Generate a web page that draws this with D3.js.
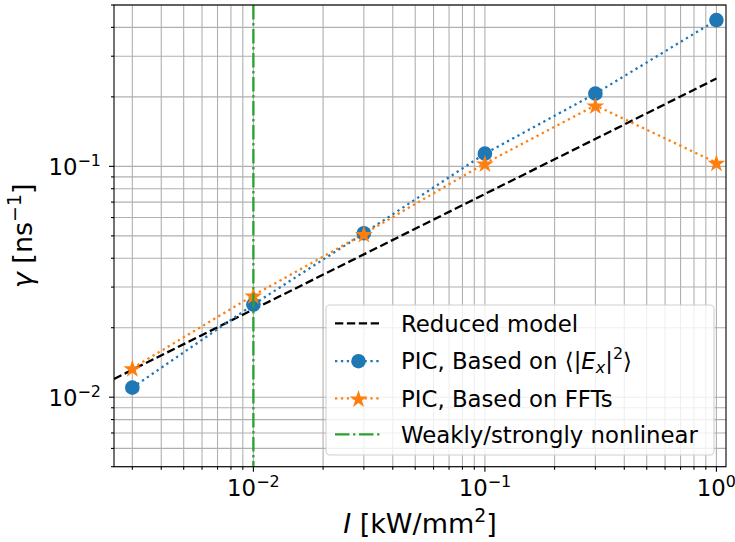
<!DOCTYPE html>
<html>
<head>
<meta charset="utf-8">
<script src="https://cdn.jsdelivr.net/npm/d3@7"></script>
<style>
  html, body { margin: 0; padding: 0; background: #fff; }
  svg { display: block; font-family: "DejaVu Sans", sans-serif; }
</style>
</head>
<body>
<svg id="chart" width="735" height="542"></svg>
<script>
// ---- data ----
const intensity = [0.003, 0.01, 0.03, 0.1, 0.3, 1.0];
const gammaEx = [0.0110, 0.0252, 0.0513, 0.1135, 0.2065, 0.430];
const gammaFFT = [0.01336, 0.0276, 0.0510, 0.1030, 0.1837, 0.1037];
const reducedI = [0.0025, 1.0];
const reducedGamma = [0.0120, 0.240];
const thresholdI = 0.01;
const xDomain = [0.0025, 1.1];
const yDomain = [0.005, 0.5];
const xMajorTicks = [0.01, 0.1, 1];
const xMajorExp = ["−2", "−1", "0"];
const yMajorTicks = [0.01, 0.1];
const yMajorExp = ["−2", "−1"];
const legendLabels = ["Reduced model", "PIC, Based on ", "PIC, Based on FFTs", "Weakly/strongly nonlinear"];

// ---- layout ----
const L = 114, R = 726, T = 5, B = 466.7;
const svg = d3.select("#chart");
const x = d3.scaleLog().domain(xDomain).range([L, R]);
const y = d3.scaleLog().domain(yDomain).range([B, T]);

function minorTicks(dom) {
  const out = [];
  for (let e = -4; e <= 1; e++) {
    for (let k = 2; k <= 9; k++) {
      const v = k * Math.pow(10, e);
      if (v >= dom[0] * 0.9999 && v <= dom[1] * 1.0001) out.push(v);
    }
  }
  return out;
}
const xMinor = minorTicks(xDomain);
const yMinor = minorTicks(yDomain);

const gridColor = "#b0b0b0";
const g = svg.append("g");
// grid
const grid = g.append("g");
[...xMinor, ...xMajorTicks].forEach(v => {
  grid.append("line").attr("x1", x(v)).attr("x2", x(v)).attr("y1", T).attr("y2", B)
    .attr("stroke", gridColor).attr("stroke-width", 1.1);
});
[...yMinor, ...yMajorTicks].forEach(v => {
  grid.append("line").attr("y1", y(v)).attr("y2", y(v)).attr("x1", L).attr("x2", R)
    .attr("stroke", gridColor).attr("stroke-width", 1.1);
});

// clip
svg.append("defs").append("clipPath").attr("id", "clip")
  .append("rect").attr("x", L).attr("y", T).attr("width", R - L).attr("height", B - T);
const plot = g.append("g").attr("clip-path", "url(#clip)");
const lw = 2.3;
const dotted = "2.3,3.6";
const dashed = "8.3,3.6";
const dashdot = "14.5,3.6,2.3,3.6";

// reduced model
const line = d3.line().x(d => x(d[0])).y(d => y(d[1]));
plot.append("path").datum(d3.zip(reducedI, reducedGamma)).attr("d", line)
  .attr("fill", "none").attr("stroke", "#000").attr("stroke-width", lw)
  .attr("stroke-dasharray", dashed);

// blue
plot.append("path").datum(d3.zip(intensity, gammaEx)).attr("d", line)
  .attr("fill", "none").attr("stroke", "#1f77b4").attr("stroke-width", lw)
  .attr("stroke-dasharray", dotted);
g.append("g").selectAll("circle").data(d3.zip(intensity, gammaEx)).join("circle")
  .attr("cx", d => x(d[0])).attr("cy", d => y(d[1])).attr("r", 7.3)
  .attr("fill", "#1f77b4");

// orange
plot.append("path").datum(d3.zip(intensity, gammaFFT)).attr("d", line)
  .attr("fill", "none").attr("stroke", "#ff7f0e").attr("stroke-width", lw)
  .attr("stroke-dasharray", dotted);
function starPath(cx, cy) {
  const ro = 9.4, ri = ro * 0.382;
  const pts = [];
  for (let i = 0; i < 10; i++) {
    const r = i % 2 === 0 ? ro : ri;
    const a = -Math.PI / 2 + i * Math.PI / 5;
    pts.push([cx + r * Math.cos(a), cy + r * Math.sin(a)]);
  }
  return "M" + pts.map(p => p.join(",")).join("L") + "Z";
}
g.append("g").selectAll("path").data(d3.zip(intensity, gammaFFT)).join("path")
  .attr("d", d => starPath(x(d[0]), y(d[1]) + 1)).attr("fill", "#ff7f0e");

// threshold
g.append("line").attr("x1", x(thresholdI)).attr("x2", x(thresholdI)).attr("y1", T).attr("y2", B)
  .attr("stroke", "#2ca02c").attr("stroke-width", lw).attr("stroke-dasharray", dashdot);

// spines
g.append("rect").attr("x", L).attr("y", T).attr("width", R - L).attr("height", B - T)
  .attr("fill", "none").attr("stroke", "#000").attr("stroke-width", 1.1);

// ticks
const ticks = g.append("g").attr("stroke", "#000").attr("stroke-width", 1.1);
xMajorTicks.forEach(v => ticks.append("line").attr("x1", x(v)).attr("x2", x(v)).attr("y1", B).attr("y2", B + 5));
xMinor.forEach(v => ticks.append("line").attr("x1", x(v)).attr("x2", x(v)).attr("y1", B).attr("y2", B + 3));
yMajorTicks.forEach(v => ticks.append("line").attr("y1", y(v)).attr("y2", y(v)).attr("x1", L).attr("x2", L - 5));
yMinor.forEach(v => ticks.append("line").attr("y1", y(v)).attr("y2", y(v)).attr("x1", L).attr("x2", L - 3));

const fs = 22.8;
function powLabel(sel, exp) {
  sel.append("tspan").text("10");
  sel.append("tspan").attr("dy", -9).attr("font-size", fs * 0.7).text(exp);
}
xMajorTicks.forEach((v, i) => {
  const t = g.append("text").attr("x", x(v)).attr("y", 496).attr("text-anchor", "middle")
    .attr("font-size", fs).attr("fill", "#000");
  powLabel(t, xMajorExp[i]);
});
yMajorTicks.forEach((v, i) => {
  const t = g.append("text").attr("x", 101).attr("y", y(v) + 9).attr("text-anchor", "end")
    .attr("font-size", fs).attr("fill", "#000");
  powLabel(t, yMajorExp[i]);
});

// axis labels
const lfs = 27;
const xl = g.append("text").attr("x", (L + R) / 2).attr("y", 533).attr("text-anchor", "middle")
  .attr("font-size", lfs).attr("fill", "#000");
xl.append("tspan").attr("font-style", "italic").text("I");
xl.append("tspan").text(" [kW/mm");
xl.append("tspan").attr("dy", -11).attr("font-size", lfs * 0.7).text("2");
xl.append("tspan").attr("dy", 11).text("]");

const yl = g.append("text").attr("transform", `translate(32,${(T + B) / 2}) rotate(-90)`)
  .attr("text-anchor", "middle").attr("font-size", lfs).attr("fill", "#000");
yl.append("tspan").attr("font-style", "italic").text("γ");
yl.append("tspan").text(" [ns");
yl.append("tspan").attr("dy", -11).attr("font-size", lfs * 0.7).text("−1");
yl.append("tspan").attr("dy", 11).text("]");

// legend
const lg = g.append("g");
lg.append("rect").attr("x", 326).attr("y", 305).attr("width", 388).attr("height", 150)
  .attr("rx", 4).attr("fill", "#fff").attr("fill-opacity", 0.8).attr("stroke", "#d0d0d0").attr("stroke-width", 1.1);
const rowY = [323.3, 361.2, 398.3, 434.3];
const hx0 = 335, hx1 = 382, tx = 401;
const hc = (hx0 + hx1) / 2;
lg.append("line").attr("x1", hx0).attr("x2", hx1).attr("y1", rowY[0]).attr("y2", rowY[0])
  .attr("stroke", "#000").attr("stroke-width", lw).attr("stroke-dasharray", dashed);
lg.append("line").attr("x1", hx0).attr("x2", hx1).attr("y1", rowY[1]).attr("y2", rowY[1])
  .attr("stroke", "#1f77b4").attr("stroke-width", lw).attr("stroke-dasharray", dotted);
lg.append("circle").attr("cx", hc).attr("cy", rowY[1]).attr("r", 7.3).attr("fill", "#1f77b4");
lg.append("line").attr("x1", hx0).attr("x2", hx1).attr("y1", rowY[2]).attr("y2", rowY[2])
  .attr("stroke", "#ff7f0e").attr("stroke-width", lw).attr("stroke-dasharray", dotted);
lg.append("path").attr("d", starPath(hc, rowY[2] + 1)).attr("fill", "#ff7f0e");
lg.append("line").attr("x1", hx0).attr("x2", hx1).attr("y1", rowY[3]).attr("y2", rowY[3])
  .attr("stroke", "#2ca02c").attr("stroke-width", lw).attr("stroke-dasharray", dashdot);

legendLabels.forEach((lab, i) => {
  const t = lg.append("text").attr("x", tx).attr("y", rowY[i] + 8.2).attr("font-size", fs).attr("fill", "#000");
  t.append("tspan").text(lab);
  if (i === 1) {
    t.append("tspan").text("⟨|");
    t.append("tspan").attr("font-style", "italic").text("E");
    t.append("tspan").attr("font-style", "italic").attr("font-size", fs * 0.7).attr("dy", 4).text("x");
    t.append("tspan").attr("dy", -4).text("|");
    t.append("tspan").attr("font-size", fs * 0.7).attr("dy", -10).text("2");
    t.append("tspan").attr("dy", 10).text("⟩");
  }
});
</script>
</body>
</html>
